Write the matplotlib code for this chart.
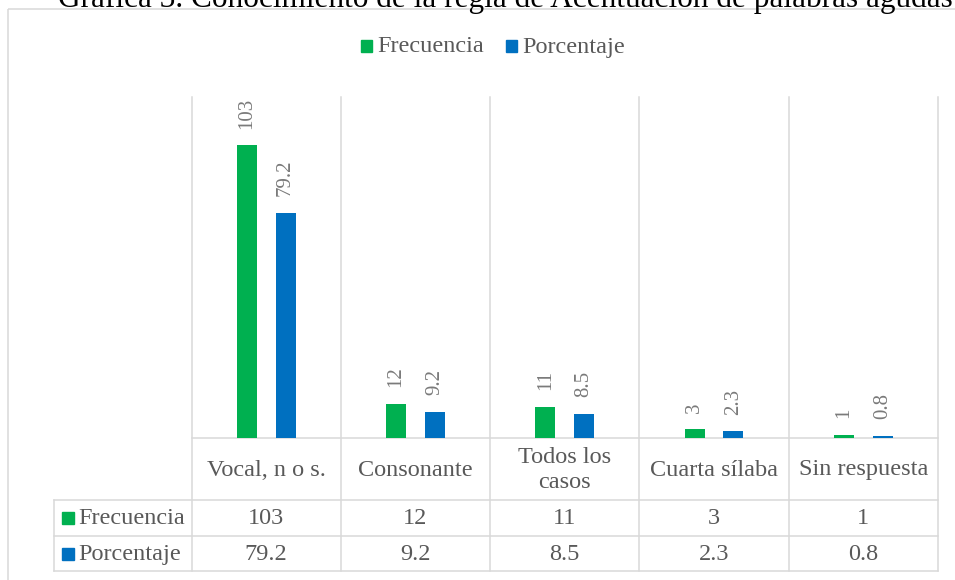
import matplotlib
matplotlib.use("Agg")
import matplotlib.pyplot as plt
from matplotlib.patches import Rectangle

# data
categories = ["Vocal, n o s.", "Consonante", "Todos los\ncasos", "Cuarta sílaba", "Sin respuesta"]
series_names = ["Frecuencia", "Porcentaje"]
frecuencia = [103, 12, 11, 3, 1]
porcentaje = [79.2, 9.2, 8.5, 2.3, 0.8]
title = "Gráfica 3. Conocimiento de la regla de Acentuación de palabras agudas"

GREEN = "#00B050"
BLUE = "#0070C0"
GRID = "#d9d9d9"
TEXT = "#595959"
LABEL = "#7a7a7a"
FONT = "Liberation Serif"
plt.rcParams["font.family"] = [FONT, "DejaVu Serif"]

W, H = 955, 580
# layout in pixels (top-left origin)
PL, PR, PT, PB = 191.5, 938, 97, 438   # plot area
ROW1, ROW2, TB = 500, 536, 571         # table row edges
HDR_L = 54                              # row header left edge

fig = plt.figure(figsize=(W / 100, H / 100), dpi=100)

ax = fig.add_axes([PL / W, 1 - PB / H, (PR - PL) / W, (PB - PT) / H])
n = len(categories)
bw, off = 0.134, 0.13
xs = list(range(n))
for vals, color, sign in [(frecuencia, GREEN, -1), (porcentaje, BLUE, 1)]:
    pos = [x + sign * off for x in xs]
    ax.bar(pos, vals, width=bw, color=color, zorder=3)
    for p, v in zip(pos, vals):
        ax.annotate(f"{v:g}", (p, v), xytext=(0, 12), textcoords="offset points",
                    rotation=90, ha="center", va="bottom", color=LABEL, fontsize=15)
ax.set_xlim(-0.5, n - 0.5)
ax.set_ylim(0, 120)
ax.set_axis_off()

# overlay in pixel coordinates for table, legend, frame, title
ov = fig.add_axes([0, 0, 1, 1], zorder=-1)
ov.set_xlim(0, W)
ov.set_ylim(H, 0)
ov.set_axis_off()

lw = 1.1
# outer chart frame
ov.add_patch(Rectangle((8, 9), W, H, fill=False, edgecolor=GRID, lw=lw))

colw = (PR - PL) / n
edges = [PL + i * colw for i in range(n + 1)]
for e in edges:
    ov.plot([e, e], [PT, TB], color=GRID, lw=lw)
ov.plot([HDR_L, HDR_L], [ROW1, TB], color=GRID, lw=lw)
ov.plot([PL, PR], [PB, PB], color=GRID, lw=lw)
for y in (ROW1, ROW2, TB):
    ov.plot([HDR_L, PR], [y, y], color=GRID, lw=lw)

fs = 17.5
for i, cat in enumerate(categories):
    cx = (edges[i] + edges[i + 1]) / 2
    ov.text(cx, (PB + ROW1) / 2 + 1, cat, ha="center", va="center", color=TEXT,
            fontsize=fs, linespacing=1.2)
    for vals, (y0, y1) in [(frecuencia, (ROW1, ROW2)), (porcentaje, (ROW2, TB))]:
        ov.text(cx, (y0 + y1) / 2 + 1, f"{vals[i]:g}", ha="center", va="center",
                color=TEXT, fontsize=fs)

for name, color, (y0, y1) in [(series_names[0], GREEN, (ROW1, ROW2)),
                              (series_names[1], BLUE, (ROW2, TB))]:
    yc = (y0 + y1) / 2
    ov.add_patch(Rectangle((62, yc - 6), 12, 12, color=color))
    ov.text(78, yc + 1, name, ha="left", va="center", color=TEXT, fontsize=fs)

# legend
for name, color, x0 in [(series_names[0], GREEN, 361), (series_names[1], BLUE, 506)]:
    ov.add_patch(Rectangle((x0, 40), 11, 12, color=color))
    ov.text(x0 + 16, 47, name, ha="left", va="center", color=TEXT, fontsize=fs)

fig.text(505 / W, 1 - 7 / H, title, ha="center", va="baseline", color="black",
         fontsize=22.5, family=FONT)

fig.savefig("out.png", dpi=100, facecolor="white")
